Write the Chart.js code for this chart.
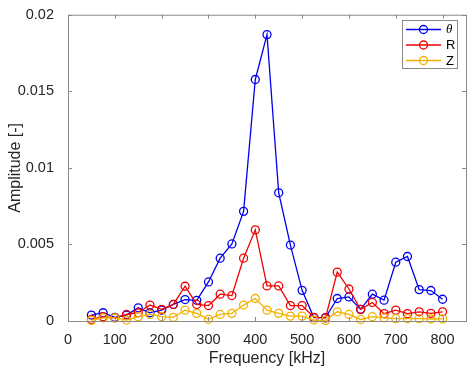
<!DOCTYPE html>
<html>
<head>
<meta charset="utf-8">
<script src="https://cdn.jsdelivr.net/npm/chart.js@4"></script>
<style>
  body { margin: 0; background: #fff; }
  #wrap { width: 474px; height: 371px; }
</style>
</head>
<body>
<div id="wrap"><canvas id="myChart" width="474" height="371"></canvas></div>
<script>
// frequencies in kHz
const freq = [50, 75, 100, 125, 150, 175, 200, 225, 250, 275, 300, 325, 350, 375, 400, 425,
              450, 475, 500, 525, 550, 575, 600, 625, 650, 675, 700, 725, 750, 775, 800];

const thetaAmp = [0.00039, 0.00054, 0.00024, 0.00039, 0.00086, 0.00054, 0.00071, 0.00108, 0.0014, 0.00135,
                  0.00255, 0.0041, 0.00503, 0.00716, 0.01577, 0.0187, 0.00837, 0.00496, 0.002, 0.00022,
                  0.00022, 0.00147, 0.00157, 0.00076, 0.00175, 0.00136, 0.00384, 0.00421, 0.00205, 0.00199, 0.00142];

const rAmp = [0.0001, 0.00028, 0.00021, 0.00043, 0.00054, 0.00104, 0.00076, 0.00108, 0.00227, 0.00108,
              0.00101, 0.00175, 0.00166, 0.0041, 0.00595, 0.00229, 0.00229, 0.00101, 0.00101, 0.00024,
              0.0002, 0.00319, 0.00209, 0.00076, 0.00121, 0.00048, 0.00071, 0.00048, 0.0006, 0.0005, 0.0006];

const zAmp = [0.00004, 0.0002, 0.0002, 0.00006, 0.00028, 0.00043, 0.00028, 0.00024, 0.00071, 0.0005,
              0.00011, 0.00043, 0.0005, 0.00104, 0.00147, 0.00071, 0.0005, 0.00032, 0.00032, 0.00006,
              0.00004, 0.0006, 0.00043, 0.0001, 0.00028, 0.0002, 0.00015, 0.00015, 0.00015, 0.00013, 0.00014];

const seriesNames = ['θ', 'R', 'Z'];
const seriesColors = ['#0000f0', '#f00000', '#f2b100'];

const xTicks = [0, 100, 200, 300, 400, 500, 600, 700, 800];
const yTicks = [0, 0.005, 0.01, 0.015, 0.02];

const axisGray = '#8a8a8a';
const textGray = '#262626';

function toPoints(ys) {
    return freq.map((f, i) => ({ x: f, y: ys[i] }));
}

function makeSet(name, ys, color, order) {
    return {
        label: name,
        data: toPoints(ys),
        borderColor: color,
        backgroundColor: 'transparent',
        borderWidth: 1.3,
        pointRadius: 4,
        pointBorderWidth: 1.3,
        pointBackgroundColor: 'transparent',
        pointBorderColor: color,
        tension: 0,
        clip: false,
        order: order
    };
}

// box around the plot plus MATLAB style inward ticks
const boxPlugin = {
    id: 'box',
    afterDatasetsDraw(chart) {
        const { ctx, chartArea: a, scales } = chart;
        ctx.save();
        ctx.strokeStyle = axisGray;
        ctx.lineWidth = 1;
        ctx.strokeRect(a.left + 0.5, a.top + 0.5, a.right - a.left, a.bottom - a.top);
        const len = 4;
        ctx.beginPath();
        xTicks.forEach(v => {
            const x = Math.round(scales.x.getPixelForValue(v)) + 0.5;
            ctx.moveTo(x, a.bottom);
            ctx.lineTo(x, a.bottom - len);
            ctx.moveTo(x, a.top);
            ctx.lineTo(x, a.top + len);
        });
        yTicks.forEach(v => {
            const y = Math.round(scales.y.getPixelForValue(v)) + 0.5;
            ctx.moveTo(a.left, y);
            ctx.lineTo(a.left + len, y);
            ctx.moveTo(a.right, y);
            ctx.lineTo(a.right - len, y);
        });
        ctx.stroke();
        ctx.restore();
    }
};

// legend box in the top right corner, line + marker like matlab
const legendPlugin = {
    id: 'matLegend',
    afterDraw(chart) {
        const ctx = chart.ctx;
        const bx = 402, by = 20, bw = 55, bh = 48;
        ctx.save();
        ctx.fillStyle = '#fff';
        ctx.fillRect(bx, by, bw, bh);
        ctx.strokeStyle = axisGray;
        ctx.lineWidth = 1;
        ctx.strokeRect(bx + 0.5, by + 0.5, bw, bh);
        chart.data.datasets.forEach((ds, i) => {
            const y = by + 9.5 + i * 15.5;
            ctx.strokeStyle = ds.borderColor;
            ctx.lineWidth = 1.3;
            ctx.beginPath();
            ctx.moveTo(bx + 4, y);
            ctx.lineTo(bx + 39, y);
            ctx.stroke();
            ctx.beginPath();
            ctx.arc(bx + 21.5, y, 4, 0, Math.PI * 2);
            ctx.stroke();
            ctx.fillStyle = '#000';
            ctx.textBaseline = 'middle';
            ctx.font = i === 0 ? 'italic 13px "Liberation Serif"' : '13px "Liberation Sans"';
            ctx.fillText(ds.label, bx + 44, y + 0.5);
        });
        ctx.restore();
    }
};

const myChart = document.getElementById('myChart').getContext('2d');
new Chart(myChart, {
    type: 'line',
    data: {
        datasets: [
            makeSet(seriesNames[0], thetaAmp, seriesColors[0], 3),
            makeSet(seriesNames[1], rAmp, seriesColors[1], 2),
            makeSet(seriesNames[2], zAmp, seriesColors[2], 1)
        ]
    },
    options: {
        responsive: false,
        animation: false,
        events: [],
        layout: { padding: { top: 12, right: 8, left: 0, bottom: 0 } },
        plugins: {
            legend: { display: false },
            tooltip: { enabled: false }
        },
        scales: {
            x: {
                type: 'linear',
                min: 0,
                max: 850,
                afterBuildTicks: s => { s.ticks = xTicks.map(v => ({ value: v })); },
                afterFit: s => { s.height = 50; },
                grid: { display: false },
                border: { display: false },
                ticks: {
                    padding: 2,
                    maxRotation: 0,
                    color: textGray,
                    font: { family: '"Liberation Sans"', size: 14.5 }
                },
                title: {
                    display: true,
                    text: 'Frequency [kHz]',
                    color: textGray,
                    padding: { top: 0, bottom: 3 },
                    font: { family: '"Liberation Sans"', size: 16 }
                }
            },
            y: {
                min: 0,
                max: 0.02,
                afterBuildTicks: s => { s.ticks = yTicks.map(v => ({ value: v })); },
                afterFit: s => { s.width = 68; },
                grid: { display: false },
                border: { display: false },
                ticks: {
                    padding: 6,
                    color: textGray,
                    font: { family: '"Liberation Sans"', size: 14.5 },
                    callback: v => String(+v.toFixed(3))
                },
                title: {
                    display: true,
                    text: 'Amplitude [-]',
                    color: textGray,
                    padding: { top: 6, bottom: 0 },
                    font: { family: '"Liberation Sans"', size: 16 }
                }
            }
        }
    },
    plugins: [boxPlugin, legendPlugin]
});
</script>
</body>
</html>
